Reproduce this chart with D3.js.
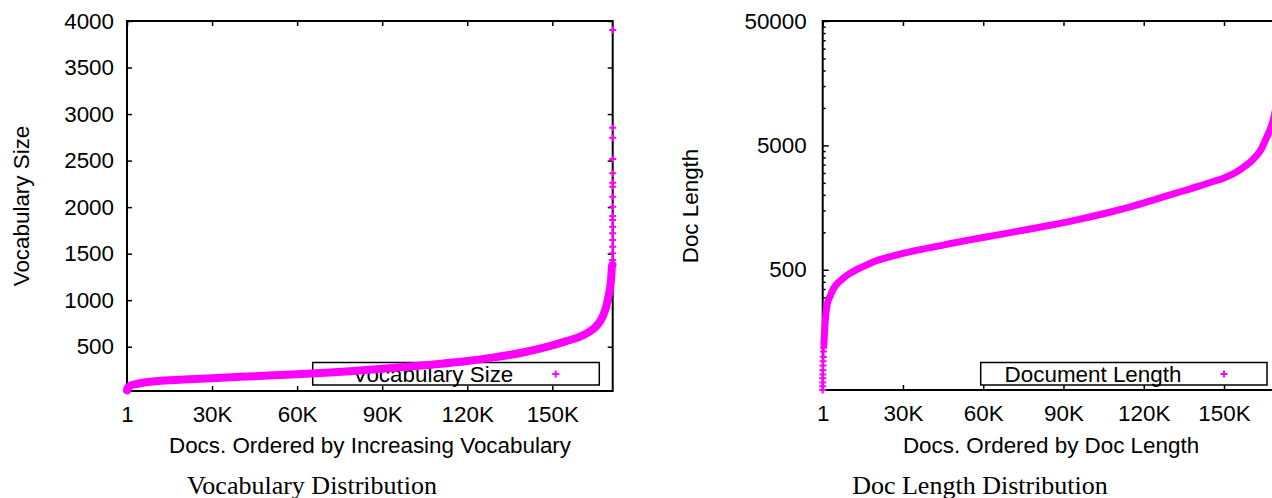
<!DOCTYPE html>
<html>
<head>
<meta charset="utf-8">
<script src="https://cdn.jsdelivr.net/npm/d3@7"></script>
<style>
  body { margin: 0; background: #fff; }
  svg { display: block; }
  .axis text { font-family: "Liberation Sans", Arial, sans-serif; font-size: 22.4px; fill: #000; }
  .axis line { stroke: #000; stroke-width: 1.5; }
  .axis path.domain { display: none; }
  .lbl { font-family: "Liberation Sans", Arial, sans-serif; font-size: 22.4px; fill: #000; }
  .ttl { font-family: "Liberation Serif", "Times New Roman", serif; font-size: 26px; fill: #000; }
</style>
</head>
<body>
<svg id="chart" width="1272" height="498"></svg>
<script>
// x axis ticks shared by both panels
var xTickValues = [1, 30000, 60000, 90000, 120000, 150000];
var xTickLabels = ["1", "30K", "60K", "90K", "120K", "150K"];
var nDocs = 171300;

// vocabulary size per doc, ordered by increasing vocabulary
var vocabRank = [1, 200, 1000, 3000, 6000, 10000, 15000, 22000, 30000, 40000, 50000, 60000,
                 70000, 80000, 90000, 100000, 110000, 120000, 130000, 140000, 150000, 155000,
                 160000, 163000, 165000, 166800, 168000, 169000, 169800, 170400, 170800, 171000,
                 171200];
var vocabSize = [30, 55, 78, 98, 115, 128, 139, 150, 162, 176, 190, 205,
                 221, 240, 262, 288, 315, 347, 388, 440, 515, 560,
                 612, 660, 705, 769, 840, 930, 1040, 1140, 1250, 1357,
                 1380];
// the few very large docs at the far right
var vocabTopRank = [171280, 171282, 171284, 171285, 171286, 171287, 171288, 171289, 171290,
                    171291, 171292, 171293, 171294, 171295, 171296, 171297, 171299];
var vocabTopSize = [1432, 1504, 1575, 1647, 1718, 1790, 1862, 1905, 2005,
                    2112, 2219, 2262, 2363, 2517, 2746, 2853, 3903];
var vocabYTicks = [500, 1000, 1500, 2000, 2500, 3000, 3500, 4000];

// document length, ordered by length (log scale)
var lenRank = [450, 700, 1000, 1500, 2000, 2700, 3500, 4500, 6000, 7700, 10000, 13000,
               16500, 20000, 25000, 30000, 37000, 45000, 55000, 65000, 75000, 85000,
               95000, 105000, 115000, 125000, 135000, 141000, 146000, 150000, 154000, 157000,
               160000, 162000, 164000, 165300, 166700, 168000, 169500, 170500, 171300];
var lenValue = [125, 160, 200, 250, 280, 304, 335, 365, 398, 427, 465, 505,
                548, 590, 635, 677, 730, 790, 870, 950, 1040, 1140,
                1260, 1410, 1600, 1860, 2160, 2360, 2560, 2740, 3000, 3300,
                3700, 4100, 4700, 5400, 6300, 7460, 10500, 16000, 40000];
// shortest docs show up as separate levels
var lenLowRank = [1, 5, 15, 30, 50, 80, 120, 170, 230, 300, 380];
var lenLowValue = [54, 58, 62, 67, 72, 78, 85, 92, 100, 110, 118];
var lenYTicks = [500, 5000, 50000];

var magenta = "#ff00ff";
var svg = d3.select("#chart");

function plus(g, xs, ys, pts) {
  g.selectAll(null).data(pts).enter().append("path")
    .attr("d", "M-3.5,0H3.5M0,-3.5V3.5")
    .attr("transform", function (d) { return "translate(" + xs(d[0]) + "," + ys(d[1]) + ")"; })
    .attr("stroke", magenta)
    .attr("stroke-width", 2)
    .attr("fill", "none");
}

function panel(cfg) {
  var x = d3.scaleLinear().domain([1, nDocs]).range([cfg.left, cfg.right]);
  var y = cfg.y;
  var g = svg.append("g");

  // ticks (inward, mirrored)
  g.append("g").attr("class", "axis")
    .attr("transform", "translate(0," + cfg.bottom + ")")
    .call(d3.axisBottom(x).tickValues(xTickValues)
      .tickFormat(function (d, i) { return xTickLabels[i]; })
      .tickSize(-5).tickSizeOuter(0).tickPadding(15));
  g.append("g").attr("class", "axis")
    .attr("transform", "translate(0," + cfg.top + ")")
    .call(d3.axisTop(x).tickValues(xTickValues).tickFormat("").tickSize(-5).tickSizeOuter(0));

  g.append("g").attr("class", "axis")
    .attr("transform", "translate(" + cfg.left + ",0)")
    .call(d3.axisLeft(y).tickValues(cfg.yTicks).tickFormat(d3.format("d"))
      .tickSize(-cfg.yTickLen).tickSizeOuter(0).tickPadding(cfg.yPad));
  g.append("g").attr("class", "axis")
    .attr("transform", "translate(" + cfg.right + ",0)")
    .call(d3.axisRight(y).tickValues(cfg.yTicks).tickFormat("").tickSize(-cfg.yTickLen).tickSizeOuter(0));

  if (cfg.yMinor) {
    g.append("g").attr("class", "axis")
      .attr("transform", "translate(" + cfg.left + ",0)")
      .call(d3.axisLeft(y).tickValues(cfg.yMinor).tickFormat("").tickSize(-3).tickSizeOuter(0));
    g.append("g").attr("class", "axis")
      .attr("transform", "translate(" + cfg.right + ",0)")
      .call(d3.axisRight(y).tickValues(cfg.yMinor).tickFormat("").tickSize(-3).tickSizeOuter(0));
  }

  g.append("rect")
    .attr("x", cfg.left).attr("y", cfg.top)
    .attr("width", cfg.right - cfg.left).attr("height", cfg.bottom - cfg.top)
    .attr("fill", "none").attr("stroke", "#000").attr("stroke-width", 2);

  // legend
  var key = cfg.key;
  g.append("rect")
    .attr("x", key.x0).attr("y", 362.5)
    .attr("width", key.x1 - key.x0).attr("height", 22.5)
    .attr("fill", "#fff").attr("stroke", "#000").attr("stroke-width", 1.5);
  g.append("text").attr("class", "lbl")
    .attr("x", key.tx).attr("y", 381.5).attr("text-anchor", "middle")
    .text(key.label);
  g.append("path")
    .attr("d", "M-3.5,0H3.5M0,-3.5V3.5")
    .attr("transform", "translate(" + key.px + ",374)")
    .attr("stroke", magenta).attr("stroke-width", 2);

  // data band
  var line = d3.line()
    .x(function (d) { return x(d[0]); })
    .y(function (d) { return y(d[1]); })
    .curve(d3.curveMonotoneX);
  g.append("path")
    .datum(d3.zip(cfg.rank, cfg.value))
    .attr("d", line)
    .attr("fill", "none")
    .attr("stroke", magenta)
    .attr("stroke-width", cfg.band)
    .attr("stroke-linejoin", "round")
    .attr("stroke-linecap", "round");
  plus(g, x, y, d3.zip(cfg.extraRank, cfg.extraValue));

  // labels
  g.append("text").attr("class", "lbl")
    .attr("text-anchor", "middle")
    .attr("transform", "translate(" + cfg.ylabX + ",206) rotate(-90)")
    .text(cfg.ylabel);
  g.append("text").attr("class", "lbl")
    .attr("x", cfg.xlabX).attr("y", 453).attr("text-anchor", "middle")
    .text(cfg.xlabel);
  g.append("text").attr("class", "ttl")
    .attr("x", cfg.titleX).attr("y", 494).attr("text-anchor", "middle")
    .text(cfg.title);
}

var lenMinor = [];
[50, 500, 5000].forEach(function (b) {
  for (var k = 2; k <= 9; k++) if (b * k > 54) lenMinor.push(b * k);
});

panel({
  left: 127, right: 612.7, top: 21, bottom: 391,
  y: d3.scaleLinear().domain([24, 4000]).range([391, 21]),
  yTicks: vocabYTicks, yTickLen: 5, yPad: 13,
  rank: vocabRank, value: vocabSize, band: 8,
  extraRank: vocabTopRank, extraValue: vocabTopSize,
  key: { x0: 312.7, x1: 599.3, tx: 433, px: 555.7, label: "Vocabulary Size" },
  ylabel: "Vocabulary Size", ylabX: 29,
  xlabel: "Docs. Ordered by Increasing Vocabulary", xlabX: 370,
  title: "Vocabulary Distribution", titleX: 312
});

panel({
  left: 822.7, right: 1281, top: 21, bottom: 390,
  y: d3.scaleLog().domain([54, 50000]).range([390, 21]),
  yTicks: lenYTicks, yTickLen: 6, yPad: 16, yMinor: lenMinor,
  rank: lenRank, value: lenValue, band: 7,
  extraRank: lenLowRank, extraValue: lenLowValue,
  key: { x0: 980.7, x1: 1267, tx: 1093, px: 1224, label: "Document Length" },
  ylabel: "Doc Length", ylabX: 698,
  xlabel: "Docs. Ordered by Doc Length", xlabX: 1051,
  title: "Doc Length Distribution", titleX: 980
});
</script>
</body>
</html>
